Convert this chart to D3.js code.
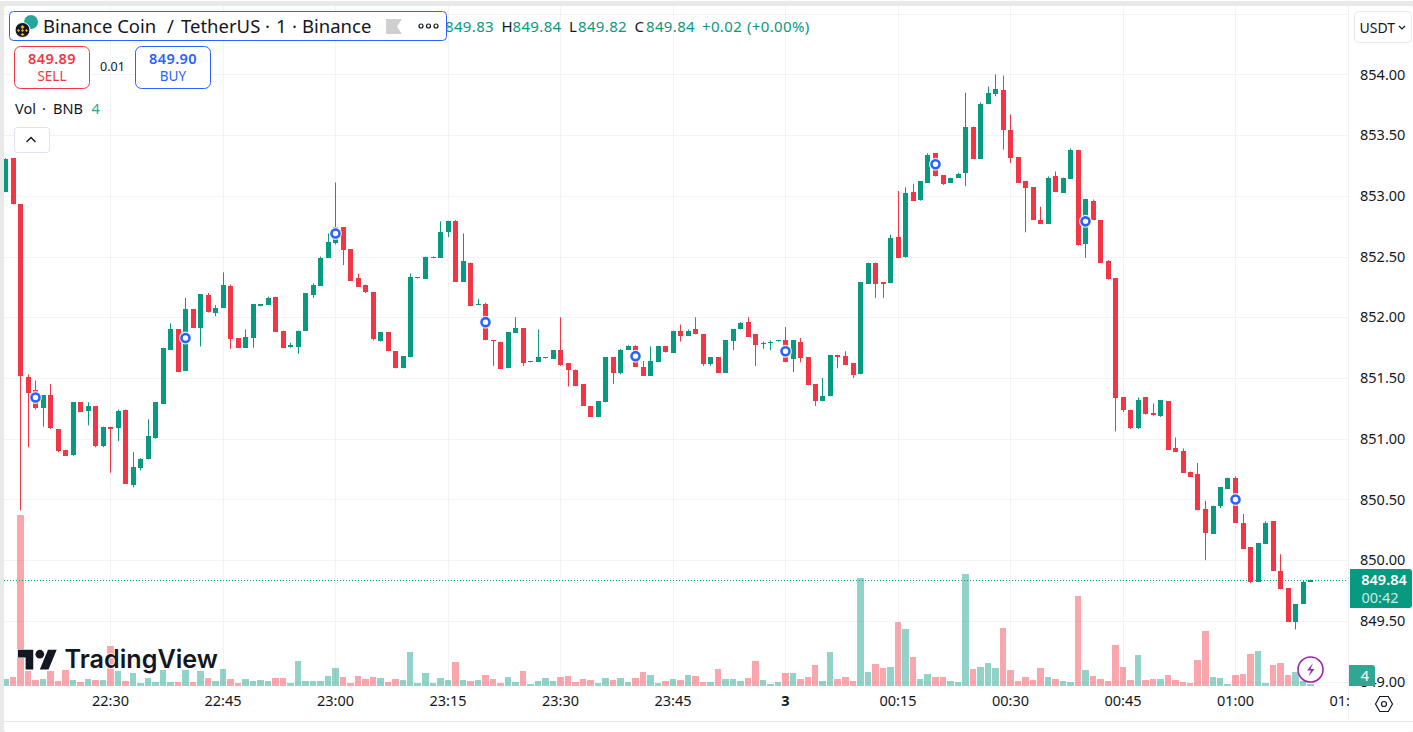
<!DOCTYPE html>
<html><head><meta charset="utf-8">
<style>html,body{margin:0;padding:0;background:#fff;overflow:hidden}svg{display:block}
text{font-family:"Noto Sans",sans-serif;fill:#131722}</style>
<script src="https://cdn.jsdelivr.net/npm/d3@7/dist/d3.min.js"></script></head><body>
<svg id="c" width="1413" height="732"></svg>
<script>
// minute offsets from 22:30; first candle at -14, last at +160
const firstMinute = -14;
const opens = [
853.03,853.31,852.93,851.51,851.40,851.25,851.36,851.08,850.91,850.86,
851.30,851.23,851.27,850.94,851.10,851.09,851.24,850.62,850.76,850.83,
851.00,851.29,851.73,851.90,851.56,852.07,851.91,852.18,852.04,852.08,
852.26,851.83,851.75,851.83,852.09,852.10,852.17,851.89,851.75,851.76,
851.89,852.19,852.26,852.49,852.61,852.74,852.56,852.32,852.27,852.21,
851.81,851.88,851.72,851.58,851.67,852.32,852.32,852.49,852.49,852.70,
852.79,852.29,852.45,852.10,852.11,851.81,851.80,851.58,851.87,851.91,
851.63,851.63,851.66,851.66,851.73,851.62,851.57,851.45,851.27,851.18,
851.30,851.67,851.54,851.73,851.76,851.59,851.52,851.63,851.76,851.71,
851.89,851.85,851.90,851.86,851.61,851.67,851.54,851.80,851.90,851.96,
851.86,851.78,851.79,851.80,851.81,851.65,851.80,851.67,851.45,851.31,
851.35,851.69,851.68,851.62,851.53,852.28,852.45,852.29,852.28,852.66,
852.49,853.03,852.96,853.11,853.35,853.17,853.11,853.15,853.19,853.57,
853.31,853.76,853.84,853.87,853.54,853.32,853.12,853.07,852.80,852.77,
853.16,853.03,853.14,853.38,852.60,852.96,852.80,852.46,852.32,851.34,
851.24,851.09,851.34,851.21,851.19,851.31,850.92,850.90,850.73,850.71,
850.42,850.22,850.44,850.59,850.68,850.31,850.11,849.82,850.14,850.32,
849.91,849.77,849.49,849.64,849.82];
const highs = [
853.31,853.31,852.93,851.53,851.48,851.36,851.45,851.08,850.91,851.30,
851.30,851.30,851.27,851.10,851.10,851.24,851.24,850.89,850.84,851.16,
851.30,851.75,851.95,851.90,852.16,852.07,852.19,852.20,852.10,852.37,
852.27,851.83,851.90,852.11,852.11,852.17,852.17,851.89,851.79,851.89,
852.20,852.28,852.50,852.69,853.11,852.74,852.56,852.36,852.27,852.21,
851.88,851.88,851.72,851.68,852.36,852.33,852.50,852.50,852.79,852.79,
852.80,852.69,852.45,852.15,852.12,851.81,851.80,851.88,852.00,851.91,
851.64,851.90,851.67,851.73,852.00,851.62,851.57,851.45,851.27,851.31,
851.67,851.67,851.74,851.77,851.77,851.64,851.76,851.76,851.76,851.89,
851.94,851.90,852.00,851.86,851.67,851.67,851.81,851.90,851.96,852.00,
851.86,851.80,851.81,851.81,851.92,851.81,851.83,851.67,851.45,851.50,
851.69,851.69,851.72,851.62,852.29,852.45,852.45,852.29,852.68,853.04,
853.07,853.10,853.12,853.35,853.35,853.17,853.15,853.19,853.85,853.57,
853.77,853.90,854.00,853.99,853.67,853.32,853.12,853.07,852.91,853.16,
853.20,853.15,853.39,853.38,852.97,852.97,852.80,852.47,852.32,851.34,
851.24,851.34,851.34,851.29,851.32,851.31,851.01,850.92,850.73,850.80,
850.49,850.45,850.60,850.68,850.69,850.38,850.11,850.14,850.32,850.32,
850.05,849.77,849.64,849.83,849.84];
const lows = [
853.03,852.93,850.41,850.93,851.24,851.10,851.08,850.89,850.86,850.86,
851.22,851.11,850.93,850.93,850.72,850.98,850.63,850.60,850.74,850.83,
851.00,851.29,851.73,851.55,851.56,851.91,851.76,852.04,852.01,852.08,
851.74,851.75,851.75,851.75,852.09,852.10,851.88,851.75,851.75,851.70,
851.89,852.16,852.26,852.49,852.60,852.43,852.30,852.25,852.20,851.81,
851.80,851.72,851.58,851.58,851.67,852.32,852.32,852.49,852.49,852.66,
852.29,852.29,852.10,852.10,851.81,851.60,851.58,851.58,851.87,851.60,
851.63,851.63,851.66,851.66,851.60,851.43,851.44,851.27,851.18,851.18,
851.30,851.45,851.53,851.73,851.59,851.52,851.52,851.63,851.71,851.71,
851.80,851.85,851.86,851.60,851.60,851.54,851.54,851.73,851.90,851.84,
851.60,851.74,851.73,851.80,851.63,851.55,851.63,851.44,851.27,851.31,
851.35,851.58,851.61,851.50,851.53,852.28,852.16,852.16,852.28,852.49,
852.49,852.96,852.96,853.11,853.16,853.09,853.11,853.15,853.08,853.31,
853.31,853.76,853.82,853.38,853.27,853.11,852.70,852.80,852.77,852.77,
853.03,853.03,853.14,852.59,852.49,852.80,852.45,852.31,851.06,851.22,
851.08,851.08,851.20,851.19,851.18,850.91,850.89,850.72,850.69,850.41,
850.00,850.22,850.43,850.59,850.31,850.10,849.81,849.82,850.14,849.91,
849.76,849.49,849.43,849.64,849.82];
const closes = [
853.30,852.93,851.51,851.38,851.25,851.36,851.09,850.90,850.86,851.30,
851.22,851.27,850.94,851.10,851.08,851.23,850.63,850.77,850.83,851.02,
851.30,851.75,851.90,851.55,852.07,851.91,852.19,852.04,852.08,852.27,
851.82,851.75,851.84,852.11,852.11,852.16,851.88,851.75,851.77,851.89,
852.20,852.27,852.49,852.62,852.74,852.55,852.30,852.25,852.21,851.82,
851.88,851.72,851.58,851.68,852.33,852.33,852.50,852.50,852.70,852.79,
852.29,852.46,852.10,852.11,851.81,851.80,851.58,851.88,851.91,851.62,
851.64,851.67,851.67,851.73,851.61,851.56,851.44,851.27,851.18,851.31,
851.67,851.54,851.73,851.76,851.59,851.52,851.64,851.76,851.71,851.89,
851.85,851.89,851.86,851.61,851.67,851.54,851.81,851.90,851.95,851.84,
851.77,851.79,851.80,851.81,851.63,851.81,851.67,851.44,851.31,851.35,
851.69,851.67,851.61,851.52,852.29,852.45,852.28,852.27,852.65,852.49,
853.02,852.96,853.12,853.34,853.16,853.10,853.15,853.18,853.57,853.31,
853.76,853.85,853.88,853.54,853.31,853.11,853.06,852.80,852.77,853.15,
853.03,853.15,853.38,852.60,852.97,852.80,852.45,852.31,851.33,851.23,
851.09,851.32,851.20,851.19,851.32,850.91,850.89,850.72,850.69,850.41,
850.22,850.45,850.60,850.68,850.31,850.10,849.82,850.14,850.31,849.91,
849.76,849.49,849.64,849.82,849.84];
const volumes = [
14,18,342,30,12,14,30,10,32,12,
8,14,12,12,80,30,10,26,6,16,
8,32,8,8,32,8,30,16,10,34,
14,6,14,10,12,10,16,16,6,50,
10,10,10,20,36,18,6,20,14,18,
16,8,14,12,68,6,26,6,16,12,
48,12,10,12,22,14,6,18,8,30,
4,10,16,10,18,20,8,14,12,6,
16,12,16,8,16,28,22,6,10,14,
12,22,20,8,8,34,14,14,10,16,
50,12,4,8,26,26,14,18,42,10,
68,14,18,10,216,28,44,36,38,128,
114,58,14,24,18,18,10,8,224,34,
38,46,36,116,32,10,18,12,36,18,
14,10,8,180,32,20,14,10,82,38,
12,62,12,14,14,22,12,8,6,52,
110,18,16,4,22,24,64,70,6,42,
46,22,28,10,4];
const priceTicks = [854,853.5,853,852.5,852,851.5,851,850.5,850,849.5,849];
const gridPrices = [854.5].concat(priceTicks);
const timeTicks = [0,15,30,45,60,75,90,105,120,135,150,165];
const timeLabels = ["22:30","22:45","23:00","23:15","23:30","23:45","3","00:15","00:30","00:45","01:00","01:15"];
const markerMinutes = [-10,10,30,50,70,90,110,130,150];
const markerPrices = [851.34,851.83,852.69,851.96,851.68,851.72,853.26,852.79,850.50];
const lastPrice = 849.84;
const UP="#089981", DOWN="#f23645", BLUE="#2962ff", GRID="#f2f3f5";

const svg=d3.select("#c");
const paneR=1349, paneB=686, paneL=4, paneT=6;
const x=d3.scaleLinear().domain([0,15]).range([110,222.5]);
const y=d3.scaleLinear().domain([849,854]).range([681.65,74.4]);
const yVol=d3.scaleLinear().domain([0,342]).range([paneB,paneB-171]);
const px=m=>Math.round(x(m));
const candles=opens.map((o,i)=>({m:firstMinute+i,o,h:highs[i],l:lows[i],c:closes[i],v:volumes[i],up:closes[i]>=o}));

// frame
svg.append("rect").attr("y",1).attr("width",1413).attr("height",731).attr("fill","#e9e9e9");
svg.append("rect").attr("x",paneL).attr("y",paneT).attr("width",1409).attr("height",726).attr("rx",3).attr("fill","#fff");
const defs=svg.append("defs");
defs.append("clipPath").attr("id","pane").append("rect").attr("x",paneL).attr("y",paneT).attr("width",paneR-paneL).attr("height",paneB-paneT);
defs.append("clipPath").attr("id","timeClip").append("rect").attr("x",paneL).attr("y",690).attr("width",paneR-paneL).attr("height",30);
const pane=svg.append("g").attr("clip-path","url(#pane)");

// grid
pane.selectAll(".vg").data(timeTicks).join("line").attr("x1",d=>px(d)+.5).attr("x2",d=>px(d)+.5).attr("y1",paneT).attr("y2",paneB).attr("stroke",GRID);
pane.selectAll(".hg").data(gridPrices).join("line").attr("y1",d=>Math.round(y(d))+.5).attr("y2",d=>Math.round(y(d))+.5).attr("x1",paneL).attr("x2",paneR).attr("stroke",GRID);

// volume
pane.selectAll(".v").data(candles).join("rect").attr("x",d=>px(d.m)-3).attr("width",d=>px(d.m+1)-px(d.m)-1).attr("y",d=>yVol(d.v)).attr("height",d=>paneB-yVol(d.v)).attr("fill",d=>d.up?UP:DOWN).attr("fill-opacity",.44);

// last price line
pane.append("line").attr("x1",paneL).attr("x2",paneR).attr("y1",Math.round(y(lastPrice))+.5).attr("y2",Math.round(y(lastPrice))+.5).attr("stroke",UP).attr("stroke-dasharray","1 2");

// candles
pane.selectAll(".w").data(candles).join("line").attr("x1",d=>px(d.m)+.5).attr("x2",d=>px(d.m)+.5).attr("y1",d=>y(d.h)).attr("y2",d=>y(d.l)).attr("stroke",d=>d.up?UP:DOWN);
pane.selectAll(".b").data(candles).join("rect").attr("x",d=>px(d.m)-2).attr("width",5).attr("y",d=>Math.round(y(Math.max(d.o,d.c)))).attr("height",d=>Math.max(1,Math.round(Math.abs(y(d.o)-y(d.c))))).attr("fill",d=>d.up?UP:DOWN);

// markers
pane.selectAll(".mk").data(markerMinutes).join("circle").attr("cx",d=>px(d)+.5).attr("cy",(d,i)=>y(markerPrices[i])).attr("r",6.5).attr("fill","#fff").attr("fill-opacity",.85);
pane.selectAll(".mk2").data(markerMinutes).join("circle").attr("cx",d=>px(d)+.5).attr("cy",(d,i)=>y(markerPrices[i])).attr("r",4).attr("fill","#fff").attr("stroke",BLUE).attr("stroke-width",2.6);

// watermark
const wm=svg.append("g");
wm.append("g").attr("transform","translate(18,645.5) scale(1.09)").call(g=>{
 g.append("path").attr("d","M14 22H7V11H0V4h14v18zM28 22h-8l7.5-18h8L28 22z").attr("fill","#131722").attr("stroke","#fff").attr("stroke-width",1).attr("paint-order","stroke");
 g.append("circle").attr("cx",20).attr("cy",8).attr("r",4).attr("fill","#131722");
});
wm.append("text").attr("x",64.5).attr("y",668).attr("font-size",25.2).attr("font-weight",600).attr("stroke","#fff").attr("stroke-width",1.5).attr("paint-order","stroke").style("font-family","Inter").text("TradingView");

// axes
const axR=svg.append("g").attr("transform",`translate(${paneR},0)`).call(d3.axisRight(y).tickValues(priceTicks).tickSize(0).tickPadding(11).tickFormat(d3.format(".2f")));
axR.select(".domain").remove();
axR.selectAll("text").attr("font-size",14.5).style("fill","#131722").style("font-family",'"Noto Sans"');
svg.append("line").attr("x1",paneR-.5).attr("x2",paneR-.5).attr("y1",paneT).attr("y2",721).attr("stroke","#f0f1f3");
svg.append("line").attr("x1",paneL).attr("x2",1413).attr("y1",721.5).attr("y2",721.5).attr("stroke","#e6e6e6");
const axB=svg.append("g").attr("clip-path","url(#timeClip)").append("g").attr("transform",`translate(0,${paneB})`).call(d3.axisBottom(x).tickValues(timeTicks).tickSize(0).tickPadding(10).tickFormat((d,i)=>timeLabels[i]));
axB.select(".domain").remove();
axB.selectAll("text").attr("font-size",14.5).style("fill","#131722").style("font-family",'"Noto Sans"').style("font-weight",d=>d===90?700:400);

// price tags
svg.append("path").attr("d","M1350 569h59a3 3 0 0 1 3 3v33a3 3 0 0 1 -3 3h-59z").attr("fill",UP);
svg.append("text").attr("x",1384).attr("y",585).attr("text-anchor","middle").attr("font-size",14.5).attr("font-weight",600).style("fill","#fff").text(d3.format(".2f")(lastPrice));
svg.append("text").attr("x",1380).attr("y",603).attr("text-anchor","middle").attr("font-size",14.5).style("fill","#cdebe6").text("00:42");
svg.append("path").attr("d","M1349 665h23a3 3 0 0 1 3 3v18h-26z").attr("fill","#30a795");
svg.append("text").attr("x",1365).attr("y",681).attr("text-anchor","middle").attr("font-size",14.5).style("fill","#fff").text(volumes[volumes.length-1]);

// header OHLC
const ohlc=svg.append("text").attr("y",32).attr("font-size",15).attr("letter-spacing",.35);
[["O",433,0],["849.83",445,1],["H",501.5,0],["849.84",512.5,1],["L",569,0],["849.82",578,1],["C",634.5,0],["849.84",646,1],["+0.02",702,1],["(+0.00%)",747,1]]
 .forEach(([t,tx,c])=>ohlc.append("tspan").attr("x",tx).style("fill",c?UP:"#131722").text(t));

// symbol box
svg.append("rect").attr("x",9.5).attr("y",11.5).attr("width",437).attr("height",29).attr("rx",4).attr("fill","#fff").attr("stroke",BLUE);
svg.append("circle").attr("cx",31).attr("cy",22).attr("r",7).attr("fill","#26a69a");
svg.append("circle").attr("cx",22.5).attr("cy",30).attr("r",7.5).attr("fill","#131722").attr("stroke","#fff");
svg.append("path").attr("d","M22.5 25l2 2-2 2-2-2zM18.500 29l1.500 1.500L18.500 32 17 30.500zM26.500 29l1.500 1.500-1.500 1.500-1.500-1.500zM22.500 29l1.500 1.500-1.500 1.500-1.500-1.500zM22.500 33l2 1.500-2 1.500-2-1.500z").attr("fill","#f0b90b");
const title=svg.append("text").attr("y",33).attr("font-size",18.5);
[["Binance Coin",43],["/",167],["TetherUS",181],["·",265],["1",276],["·",292],["Binance",302]].forEach(([t,tx])=>title.append("tspan").attr("x",tx).text(t));
svg.append("path").attr("d","M386 19h16l-5 7.500 5 7.500h-16z").attr("fill","#cfcfcf");
[421,428.5,436].forEach(cx=>svg.append("circle").attr("cx",cx).attr("cy",26).attr("r",2).attr("fill","none").attr("stroke","#131722").attr("stroke-width",1.2));

// trade boxes
function tradeBox(xl,col,price,label){
 svg.append("rect").attr("x",xl+.5).attr("y",46.5).attr("width",75).attr("height",42).attr("rx",6).attr("fill","#fff").attr("stroke",col);
 svg.append("text").attr("x",xl+38).attr("y",64).attr("text-anchor","middle").attr("font-size",14.5).attr("font-weight",600).attr("letter-spacing",.4).style("fill",col).text(price);
 svg.append("text").attr("x",xl+38).attr("y",81).attr("text-anchor","middle").attr("font-size",13.5).style("fill",col).text(label);
}
tradeBox(14,DOWN,"849.89","SELL");
tradeBox(135,BLUE,"849.90","BUY");
svg.append("text").attr("x",112.5).attr("y",71).attr("text-anchor","middle").attr("font-size",12.5).text("0.01");
const volT=svg.append("text").attr("y",114).attr("font-size",14.5);
[["Vol",15],["·",42],["BNB",53]].forEach(([t,tx])=>volT.append("tspan").attr("x",tx).text(t));
svg.append("text").attr("x",91.5).attr("y",114).attr("font-size",14.5).style("fill","#22ab94").text("4");
svg.append("rect").attr("x",14.5).attr("y",127.5).attr("width",35).attr("height",25).attr("rx",3).attr("fill","#fff").attr("stroke","#e0e3eb");
svg.append("path").attr("d","M26.5 142l4.5-4.5 4.5 4.5").attr("fill","none").attr("stroke","#131722").attr("stroke-width",1.4);

// currency button
svg.append("rect").attr("x",1354.5).attr("y",11.5).attr("width",57).attr("height",31).attr("rx",4).attr("fill","#fff").attr("stroke","#e9eaec");
svg.append("text").attr("x",1359.5).attr("y",33).attr("font-size",14).text("USDT");
svg.append("path").attr("d","M1399 26l3 3 3-3").attr("fill","none").attr("stroke","#131722").attr("stroke-width",1.2);

// lightning + settings
svg.append("circle").attr("cx",1310.5).attr("cy",669.5).attr("r",12.5).attr("fill","#fff").attr("fill-opacity",.6).attr("stroke","#9c27b0").attr("stroke-width",1.6);
svg.append("path").attr("d","M1313 663l-6 7.500h4l-2.500 6 6-7.500h-4z").attr("fill","#9c27b0");
svg.append("path").attr("d","M1375.500 704l4.250-7.500h8.500l4.250 7.500-4.250 7.500h-8.500z").attr("fill","none").attr("stroke","#131722").attr("stroke-width",1.2);
svg.append("circle").attr("cx",1384).attr("cy",704).attr("r",2.500).attr("fill","none").attr("stroke","#131722").attr("stroke-width",1.2);
</script></body></html>
